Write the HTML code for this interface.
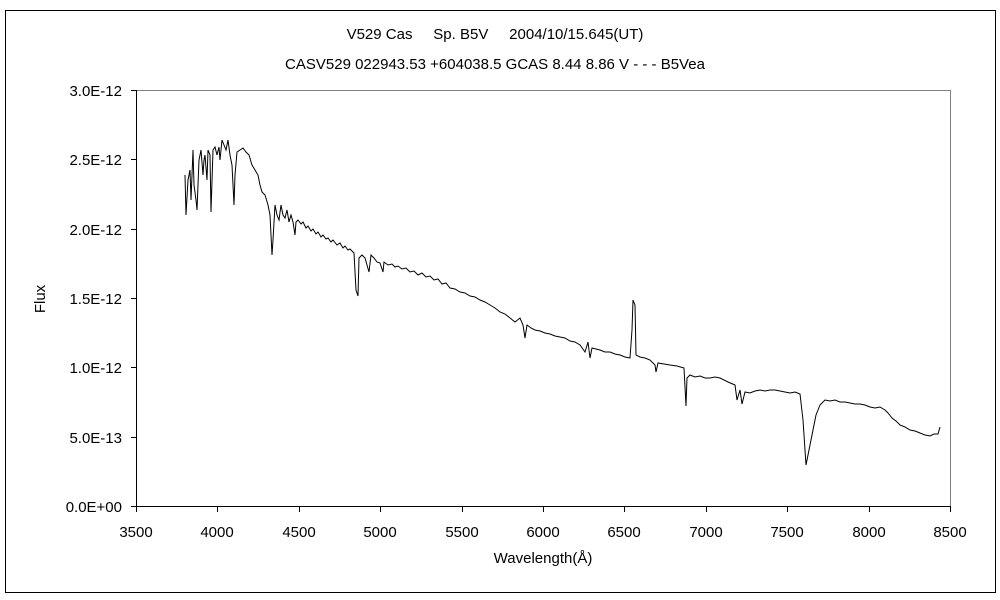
<!DOCTYPE html>
<html><head><meta charset="utf-8"><style>
body{margin:0;background:#fff;}
svg{display:block;font-family:"Liberation Sans","Noto Sans CJK JP",sans-serif;}
text{white-space:pre;}
</style></head><body>
<svg width="1000" height="600" xmlns="http://www.w3.org/2000/svg">
<rect x="0" y="0" width="1000" height="600" fill="#fff"/>
<rect x="5.5" y="10.5" width="990" height="582" fill="none" stroke="#000" stroke-width="1"/>
<text x="495" y="39" font-size="15" text-anchor="middle" xml:space="preserve">V529 Cas     Sp. B5V     2004/10/15.645(UT)</text>
<text x="495" y="69" font-size="15" text-anchor="middle">CASV529 022943.53 +604038.5 GCAS 8.44 8.86 V - - - B5Vea</text>
<line x1="136" y1="90.5" x2="950" y2="90.5" stroke="#808080"/>
<line x1="950.5" y1="90" x2="950.5" y2="506" stroke="#808080"/>
<line x1="136.5" y1="90" x2="136.5" y2="507" stroke="#000"/>
<line x1="136" y1="506.5" x2="951" y2="506.5" stroke="#000"/>
<g stroke="#000">
<line x1="131" y1="90.5" x2="136" y2="90.5"/><line x1="131" y1="159.5" x2="136" y2="159.5"/>
<line x1="131" y1="229.5" x2="136" y2="229.5"/><line x1="131" y1="298.5" x2="136" y2="298.5"/>
<line x1="131" y1="367.5" x2="136" y2="367.5"/><line x1="131" y1="437.5" x2="136" y2="437.5"/>
<line x1="131" y1="506.5" x2="136" y2="506.5"/>
<line x1="136.5" y1="506" x2="136.5" y2="512"/><line x1="217.5" y1="506" x2="217.5" y2="512"/>
<line x1="299.5" y1="506" x2="299.5" y2="512"/><line x1="380.5" y1="506" x2="380.5" y2="512"/>
<line x1="462.5" y1="506" x2="462.5" y2="512"/><line x1="543.5" y1="506" x2="543.5" y2="512"/>
<line x1="624.5" y1="506" x2="624.5" y2="512"/><line x1="706.5" y1="506" x2="706.5" y2="512"/>
<line x1="787.5" y1="506" x2="787.5" y2="512"/><line x1="869.5" y1="506" x2="869.5" y2="512"/>
<line x1="950.5" y1="506" x2="950.5" y2="512"/>
</g>
<g font-size="15" text-anchor="end">
<text x="122" y="96">3.0E-12</text><text x="122" y="165">2.5E-12</text>
<text x="122" y="235">2.0E-12</text><text x="122" y="304">1.5E-12</text>
<text x="122" y="373">1.0E-12</text><text x="122" y="443">5.0E-13</text>
<text x="122" y="512">0.0E+00</text>
</g>
<g font-size="15" text-anchor="middle">
<text x="136" y="537">3500</text><text x="217" y="537">4000</text><text x="299" y="537">4500</text>
<text x="380" y="537">5000</text><text x="462" y="537">5500</text><text x="543" y="537">6000</text>
<text x="624" y="537">6500</text><text x="706" y="537">7000</text><text x="787" y="537">7500</text>
<text x="869" y="537">8000</text><text x="950" y="537">8500</text>
</g>
<text x="543" y="563" font-size="15" text-anchor="middle">Wavelength(Å)</text>
<text x="0" y="0" font-size="15" text-anchor="middle" transform="translate(45,299) rotate(-90)">Flux</text>
<polyline fill="none" stroke="#000" stroke-width="1" points="185,175 186,215 188,180 190,170 191,200 193,150 194,185 196,200 197,210 199,160 201,150 203,175 204,160 205,155 207,180 208,150 210,155 211,212 213,150 215,147 217,155 219,147 220,160 222,140 224,145 226,150 228,140 230,155 232,165 234,205 235,175 237,152 240,150 243,148 246,152 249,155 252,165 255,170 258,175 260,185 262,192 265,195 268,205 270,215 272,255 273,240 275,205 277,215 279,220 281,205 283,215 285,218 287,210 289,222 291,215 293,222 295,235 296,222 298,220 301,224 303,222 306,228 308,226 311,231 313,229 316,234 318,232 321,237 323,235 326,239 328,238 331,242 333,240 337,245 340,243 343,248 345,246 348,250 350,249 354,253 356,290 358,296 359,258 362,255 365,258 367,265 369,272 371,255 374,258 377,262 380,263 383,272 384,262 388,265 392,264 395,267 398,266 402,269 406,268 410,272 414,271 418,275 422,273 426,277 430,276 434,280 438,279 442,284 446,283 450,288 455,289 460,292 465,293 470,296 475,297 480,300 485,302 490,305 495,308 500,312 505,314 510,318 515,322 520,318 523,325 525,338 527,325 531,328 535,330 540,331 545,333 550,334 555,336 560,337 565,338 570,341 575,342 580,345 585,352 588,342 590,358 592,348 596,349 600,350 605,352 610,352 615,354 620,355 625,357 630,358 632,330 633,300 635,305 636,355 640,357 645,358 650,360 655,365 656,372 658,363 664,364 670,365 677,366 684,368 686,406 687,378 690,375 695,377 700,376 705,378 710,378 715,377 720,378 728,382 735,385 737,400 740,390 742,404 745,392 750,393 755,391 760,390 765,391 770,390 775,390 780,391 785,392 790,393 795,392 800,394 803,420 806,465 808,455 810,445 813,430 816,415 820,405 825,400 830,401 835,400 840,402 845,402 850,403 855,404 860,404 865,405 870,407 875,408 880,407 885,410 888,413 892,418 896,421 900,425 905,427 910,430 915,431 920,433 925,435 930,436 934,434 938,434 940,427"/>
</svg>
</body></html>
